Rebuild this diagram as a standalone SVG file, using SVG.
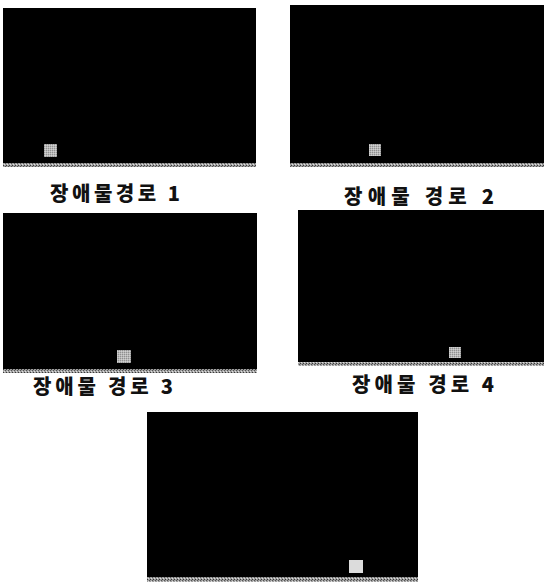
<svg xmlns="http://www.w3.org/2000/svg" width="544" height="585" viewBox="0 0 544 585">
  <style>
    .bg { fill: #000000; }
    .label { font-family: "Noto Sans CJK KR", "Noto Sans", sans-serif; font-weight: 900; font-size: 20px; fill: #111111; }
    .strip { fill: url(#dither); }
    .obst { fill: url(#dither2); }
    .obst5 { fill: #dcdcdc; }
  </style>
  <defs>
    <pattern id="dither" width="3" height="3" patternUnits="userSpaceOnUse">
      <rect width="3" height="3" fill="#a0a0a0"/>
      <rect x="0" y="0" width="1" height="1" fill="#3a3a3a"/>
      <rect x="2" y="1" width="1" height="1" fill="#555555"/>
      <rect x="1" y="2" width="1" height="1" fill="#e0e0e0"/>
    </pattern>
    <pattern id="dither2" width="2" height="2" patternUnits="userSpaceOnUse">
      <rect width="2" height="2" fill="#b8b8b8"/>
      <rect x="0" y="0" width="1" height="1" fill="#909090"/>
      <rect x="1" y="1" width="1" height="1" fill="#d0d0d0"/>
    </pattern>
  </defs>
  <rect width="544" height="585" fill="#ffffff"/>

  <g id="panel1">
    <rect class="bg" x="3" y="8" width="253" height="156"/>
    <rect class="strip" x="3" y="163" width="253" height="4"/>
    <rect class="obst" x="44" y="144" width="13" height="13"/>
    <text class="label" x="50" y="201" textLength="130" lengthAdjust="spacing">장애물경로 1</text>
  </g>

  <g id="panel2">
    <rect class="bg" x="290" y="5" width="254" height="159"/>
    <rect class="strip" x="290" y="163" width="254" height="4"/>
    <rect class="obst" x="369" y="144" width="12" height="12"/>
    <text class="label" x="344" y="204" textLength="150" lengthAdjust="spacing">장애물 경로 2</text>
  </g>

  <g id="panel3">
    <rect class="bg" x="3" y="213" width="254" height="157"/>
    <rect class="strip" x="3" y="369" width="254" height="4"/>
    <rect class="obst" x="117" y="350" width="14" height="13"/>
    <text class="label" x="33" y="394" textLength="140" lengthAdjust="spacing">장애물 경로 3</text>
  </g>

  <g id="panel4">
    <rect class="bg" x="298" y="210" width="246" height="153"/>
    <rect class="strip" x="298" y="362" width="246" height="4"/>
    <rect class="obst" x="449" y="347" width="12" height="11"/>
    <text class="label" x="352" y="392" textLength="142" lengthAdjust="spacing">장애물 경로 4</text>
  </g>

  <g id="panel5">
    <rect class="bg" x="147" y="412" width="271" height="166"/>
    <rect class="strip" x="147" y="577" width="271" height="5"/>
    <rect class="obst5" x="349" y="560" width="14" height="13"/>
  </g>
</svg>
